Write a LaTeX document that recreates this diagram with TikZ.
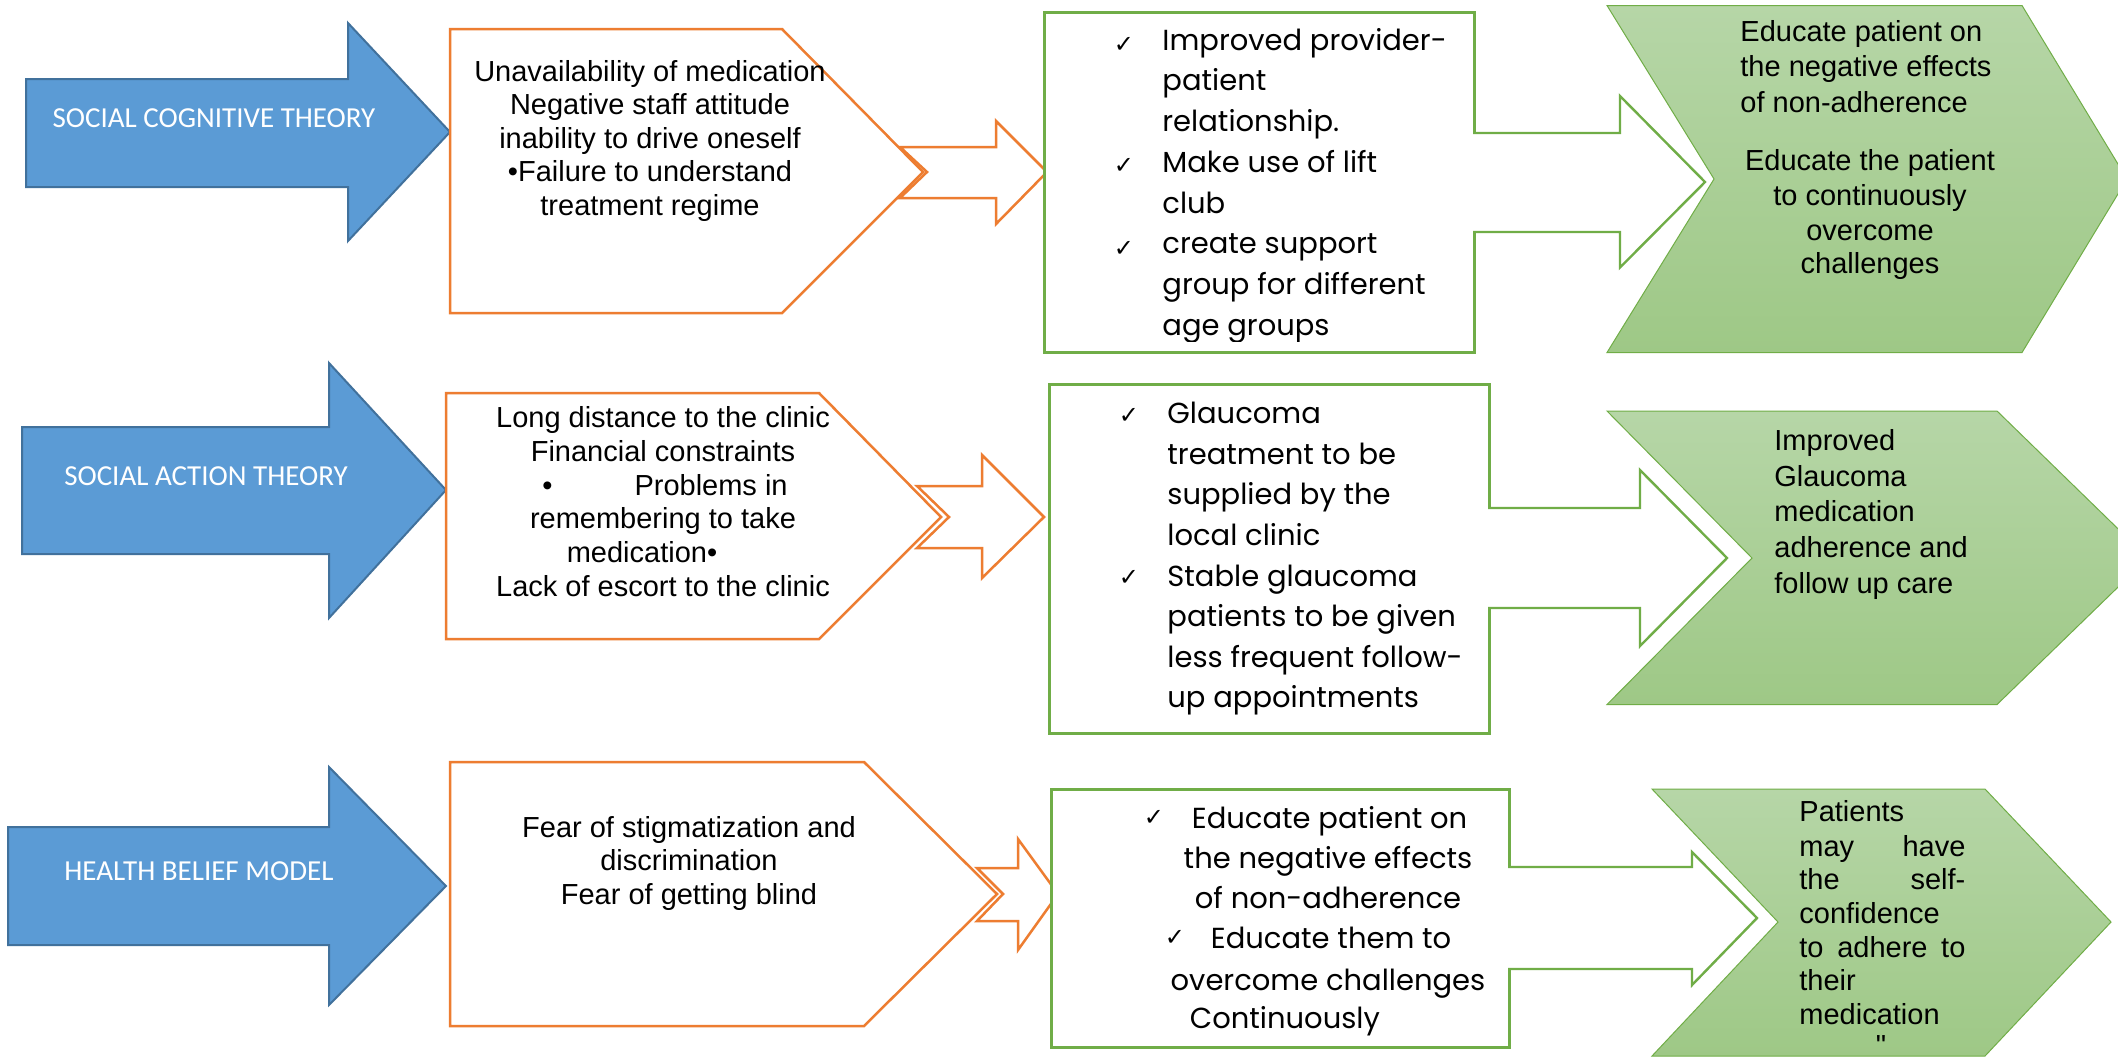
\documentclass[tikz,border=0pt]{standalone}
\usepackage{fontspec}
\setmainfont{Liberation Sans}
\newfontfamily\labelfont{Carlito}
\newfontfamily\listfont{Poppins}
\newfontfamily\tickfont{DejaVu Sans}
\newfontfamily\rawsans{Liberation Sans}[Ligatures=TeXOff]

\definecolor{theoryblue}{HTML}{5B9BD5}
\definecolor{theoryedge}{HTML}{41719C}
\definecolor{barrierorange}{HTML}{ED7D31}
\definecolor{remedygreen}{HTML}{70AD47}
\definecolor{outcometop}{RGB}{182,214,167}
\definecolor{outcomebottom}{RGB}{158,200,134}

\tikzset{
  theory/.style={fill=theoryblue, draw=theoryedge, line width=1pt, line join=miter},
  barrier/.style={fill=white, draw=barrierorange, line width=1.25pt, line join=miter},
  remedy/.style={fill=white, draw=remedygreen, line width=1.5pt},
  remedyarrow/.style={draw=remedygreen, line width=1.2pt, line join=miter},
  outcome/.style={top color=outcometop, bottom color=outcomebottom, draw=remedygreen, line width=0.5pt},
  theorytext/.style={font=\labelfont\fontsize{14.5}{17}\selectfont, text=white, inner sep=0pt, anchor=mid},
  bodytext/.style={font=\fontsize{14.5}{17}\selectfont, inner sep=0pt, anchor=mid},
  lefttext/.style={bodytext, anchor=mid west},
  listtext/.style={font=\listfont\fontsize{14.5}{17}\selectfont, inner sep=0pt, anchor=mid west},
  centrelist/.style={listtext, anchor=mid},
  tick/.style={font=\tickfont\fontsize{12}{14}\selectfont, inner sep=0pt, anchor=center},
}

\begin{document}
\begin{tikzpicture}[x=0.5pt, y=-0.5pt]
\clip (0,0) rectangle (2118,1057);
\fill[white] (0,0) rectangle (2118,1057);

% ---------- theory arrows ----------
\draw[theory] (26,79) -- (348,79) -- (348,23) -- (450,132) -- (348,241) -- (348,187) -- (26,187) -- cycle;
\draw[theory] (22,427) -- (329,427) -- (329,363) -- (446,490) -- (329,618) -- (329,554) -- (22,554) -- cycle;
\draw[theory] (8,827) -- (329,827) -- (329,767) -- (446,886) -- (329,1005) -- (329,945) -- (8,945) -- cycle;

\node[theorytext] (sct) at (214,122) {SOCIAL COGNITIVE THEORY};
\node[theorytext] (sat) at (206,480) {SOCIAL ACTION THEORY};
\node[theorytext] (hbm) at (199,875) {HEALTH BELIEF MODEL};

% ---------- barrier pentagons ----------
\draw[barrier] (450,29) -- (782,29) -- (923,172) -- (782,313) -- (450,313) -- cycle;
\draw[barrier] (446,393) -- (819,393) -- (941,517) -- (819,639) -- (446,639) -- cycle;
\draw[barrier] (450,762) -- (864,762) -- (997,894) -- (864,1026) -- (450,1026) -- cycle;

% ---------- notched orange arrows ----------
\draw[barrier] (900,147) -- (996,147) -- (996,121) -- (1047,172) -- (996,224) -- (996,198) -- (900,198) -- (927,172) -- cycle;
\draw[barrier] (917,486) -- (982,486) -- (982,455) -- (1044,517) -- (982,578) -- (982,548) -- (917,548) -- (949,517) -- cycle;
\draw[barrier] (977,868) -- (1018,868) -- (1018,839) -- (1058,894) -- (1018,950) -- (1018,921) -- (977,921) -- (1003,894) -- cycle;

% barrier texts
\node[bodytext] (b1-1) at (650,76) {Unavailability of medication};
\node[bodytext] (b1-2) at (650,109.5) {Negative staff attitude};
\node[bodytext] (b1-3) at (650,143) {inability to drive oneself};
\node[bodytext] (b1-4) at (650,176.5) {•Failure to understand};
\node[bodytext] (b1-5) at (650,210) {treatment regime};

\node[bodytext] (b2-1) at (663,422.7) {Long distance to the clinic};
\node[bodytext] (b2-2) at (663,456.3) {Financial constraints};
\node[bodytext] (b2-3) at (665,489.9) {•\hspace{41pt}Problems in};
\node[bodytext] (b2-4) at (663,523.5) {remembering to take};
\node[bodytext] (b2-5) at (642,557.1) {medication•};
\node[bodytext] (b2-6) at (663,590.7) {Lack of escort to the clinic};

\node[bodytext] (b3-1) at (689,831.7) {Fear of stigmatization and};
\node[bodytext] (b3-2) at (689,865.5) {discrimination};
\node[bodytext] (b3-3) at (689,899.3) {Fear of getting blind};

% ---------- remedy boxes ----------
\draw[remedy] (1044.5,12) rectangle (1474,352.5);
\draw[remedy] (1049,384) rectangle (1489,733);
\draw[remedy] (1051.5,789) rectangle (1509,1047);

% hollow green arrows leaving the boxes
\fill[white] (1471,133) -- (1620,133) -- (1620,96) -- (1705,182) -- (1620,267.5) -- (1620,232) -- (1471,232) -- cycle;
\draw[remedyarrow] (1473,133) -- (1620,133) -- (1620,96) -- (1705,182) -- (1620,267.5) -- (1620,232) -- (1473,232);
\fill[white] (1486,508) -- (1640,508) -- (1640,470) -- (1727,558) -- (1640,646) -- (1640,608) -- (1486,608) -- cycle;
\draw[remedyarrow] (1488,508) -- (1640,508) -- (1640,470) -- (1727,558) -- (1640,646) -- (1640,608) -- (1488,608);
\fill[white] (1506,867) -- (1692,867) -- (1692,852) -- (1757,918) -- (1692,985) -- (1692,969) -- (1506,969) -- cycle;
\draw[remedyarrow] (1508,867) -- (1692,867) -- (1692,852) -- (1757,918) -- (1692,985) -- (1692,969) -- (1508,969);

% remedy lists
\begin{scope}
\clip (1040,0) rectangle (1480,341);
\node[tick] (r1-t1) at (1124,45) {✓};
\node[tick] (r1-t2) at (1124,166) {✓};
\node[tick] (r1-t3) at (1124,249) {✓};
\node[listtext] (r1-1) at (1162,45) {Improved provider-};
\node[listtext] (r1-2) at (1162,85.7) {patient};
\node[listtext] (r1-3) at (1162,126.4) {relationship.};
\node[listtext] (r1-4) at (1162,167.1) {Make use of lift};
\node[listtext] (r1-5) at (1162,207.8) {club};
\node[listtext] (r1-6) at (1162,248.5) {create support};
\node[listtext] (r1-7) at (1162,289.2) {group for different};
\node[listtext] (r1-8) at (1162,329.9) {age groups};
\end{scope}

\node[tick] (r2-t1) at (1129,416) {✓};
\node[tick] (r2-t2) at (1129,578) {✓};
\node[listtext] (r2-1) at (1167,418.3) {Glaucoma};
\node[listtext] (r2-2) at (1167,458.9) {treatment to be};
\node[listtext] (r2-3) at (1167,499.5) {supplied by the};
\node[listtext] (r2-4) at (1167,540.1) {local clinic};
\node[listtext] (r2-5) at (1167,580.7) {Stable glaucoma};
\node[listtext] (r2-6) at (1167,621.3) {patients to be given};
\node[listtext] (r2-7) at (1167,661.9) {less frequent follow-};
\node[listtext] (r2-8) at (1167,702.5) {up appointments};

\node[tick] (r3-t1) at (1154,818) {✓};
\node[tick] (r3-t2) at (1175,938) {✓};
\node[listtext] (r3-1) at (1191.5,823.3) {Educate patient on};
\node[centrelist] (r3-2) at (1328,862.7) {the negative effects};
\node[centrelist] (r3-3) at (1328,903.3) {of non-adherence};
\node[listtext] (r3-4) at (1210.5,943.3) {Educate them to};
\node[centrelist] (r3-5) at (1328,985) {overcome challenges};
\node[listtext] (r3-6) at (1189.5,1023.3) {Continuously};

% ---------- outcome chevrons ----------
\draw[outcome] (1607,5.5) -- (2022,5.5) -- (2127,179) -- (2022,352.5) -- (1607,352.5) -- (1714,179) -- cycle;
\draw[outcome] (1607,411) -- (1997,411) -- (2148,558) -- (1997,704.5) -- (1607,704.5) -- (1752,558) -- cycle;
\draw[outcome] (1652,789) -- (1985,789) -- (2111,922) -- (1985,1056) -- (1652,1056) -- (1778,922) -- cycle;

\node[lefttext] (o1-1) at (1740,36) {Educate patient on};
\node[lefttext] (o1-2) at (1740,71.7) {the negative effects};
\node[lefttext] (o1-3) at (1740,107.3) {of non-adherence};
\node[bodytext] (o1-4) at (1870,165) {Educate the patient};
\node[bodytext] (o1-5) at (1870,200) {to continuously};
\node[bodytext] (o1-6) at (1870,235) {overcome};
\node[bodytext] (o1-7) at (1870,268) {challenges};

\node[lefttext] (o2-1) at (1774,445) {Improved};
\node[lefttext] (o2-2) at (1774,480.8) {Glaucoma};
\node[lefttext] (o2-3) at (1774,516.6) {medication};
\node[lefttext] (o2-4) at (1774,552.4) {adherence and};
\node[lefttext] (o2-5) at (1774,588.3) {follow up care};

\node[lefttext] (o3-1) at (1799,816) {Patients};
\node[lefttext] (o3-2) at (1799,851) {\makebox[83pt][s]{may have}};
\node[lefttext] (o3-3) at (1799,884.3) {\makebox[83pt][s]{the self-}};
\node[lefttext] (o3-4) at (1799,918.3) {confidence};
\node[lefttext] (o3-5) at (1799,951.7) {\makebox[83pt][s]{to adhere to}};
\node[lefttext] (o3-6) at (1799,985) {their};
\node[lefttext] (o3-7) at (1799,1019.3) {medication};
\node[bodytext, font=\rawsans\fontsize{14.5}{17}\selectfont, anchor=base] (o3-8) at (1881,1055) {"};
\end{tikzpicture}
\end{document}
